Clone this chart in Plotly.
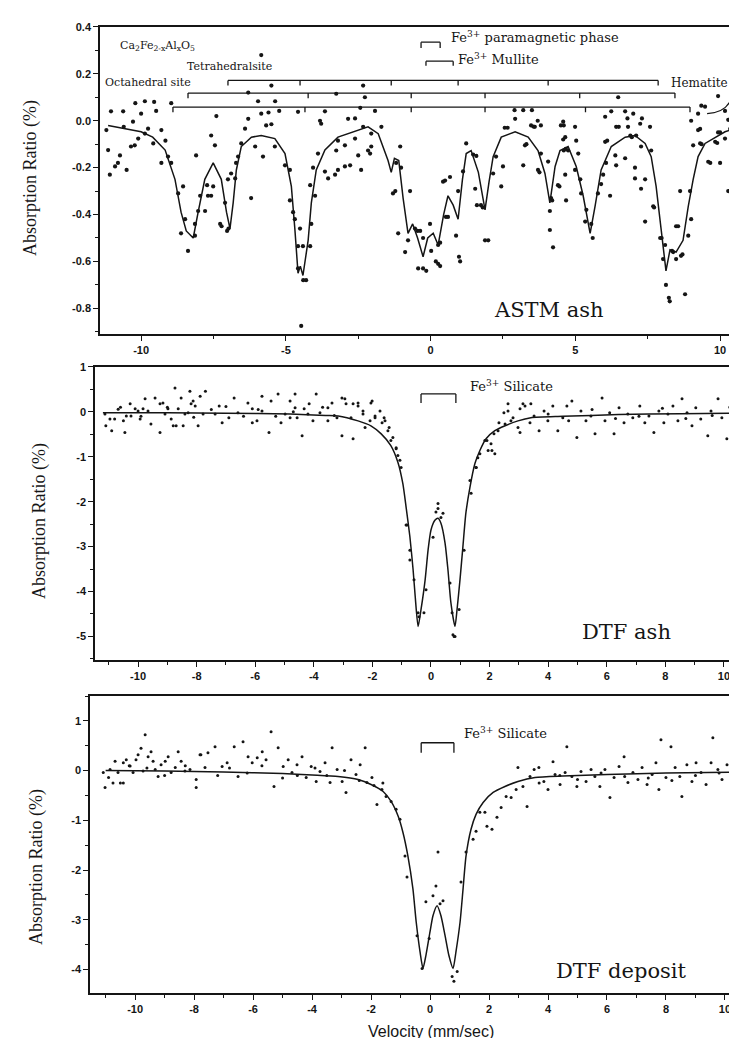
import plotly.graph_objects as go

W, H = 737, 1038

# ---------------- Panel 1 : ASTM ash ----------------
s1_x = [-11.04, -10.62, -10.2, -9.87, -9.55, -8.96, -10.0, -9.48, -7.4, -6.3, -5.96, -5.85, -5.5, -5.37,
        -5.23, -5.85, -5.6, -6.3, -4.58, -3.65, -3.26, -2.33, -2.27, -2.43, -2.61, -3.82, -1.92, 2.9, 3.2,
        3.5, 3.7, 6.48, 6.24, 6.72, 7.0, 9.93, 9.24, 9.48, 10.17, 10.28, 9.35, 9.0, 6.03, 6.8, 7.3, 4.58, 4.99,
        -11.2, -11.14, -11.08, -10.9, -10.73, -10.8, -10.5, -10.6, -10.28, -10.22, -10.35, -10.1, -9.87, -9.76,
        -9.58, -9.3, -9.16, -9.3, -9.07, -8.96, -8.72, -8.55, -8.62, -8.48, -8.38, -8.14, -8.14, -8.03, -8.1,
        -7.96, -7.79, -7.72, -7.69, -7.58, -7.45, -7.58, -7.51, -7.27, -7.22, -7.1, -7.03, -6.98, -7.0, -6.89,
        -6.75, -6.72, -6.65, -6.54, -6.41, -6.2, -6.06, -5.79, -5.68, -5.5, -5.38, -5.03, -4.86, -4.86, -4.75,
        -4.69, -4.51, -4.58, -4.41, -4.58, -4.4, -4.3, -4.47, -4.16, -4.12, -3.99, -4.16, -4.06, -3.89, -3.65,
        -3.54, -3.3, -3.2, -2.96, -2.78, -2.4, -3.26, -2.96, -3.2, -2.61, -2.5, -2.16, -2.05, -3.78, -2.85, -2.33,
        -2.05, -2.09, -1.7, -1.05, -1.19, -1.3, -1.22, -0.71, -1.02, -1.12, -0.88, -0.78, -0.54, -0.45, -0.36,
        -0.26, -0.26, -0.43, -0.15, -0.02, 0.02, 0.26, 0.33, 0.18, 0.26, 0.33, 0.53, 0.6, 0.43, 0.5, 0.67, 0.95,
        0.88, 0.98, 1.02, 1.12, 1.23, 1.47, 1.58, 1.54, 1.74, 1.6, 1.8, 1.88, 1.99, 2.16, 2.26, 2.44, 2.5, 2.56,
        2.66, 2.92, 3.26, 3.31, 3.2, 3.47, 3.55, 3.6, 3.71, 3.76, 3.81, 3.81, 4.06, 4.16, 4.2, 4.12, 4.12, 4.23,
        4.5, 4.6, 4.58, 4.65, 4.4, 4.45, 4.6, 4.67, 4.75, 4.65, 4.68, 4.99, 5.03, 5.1, 5.17, 5.2, 5.38, 5.34,
        5.55, 5.6, 5.78, 5.89, 5.96, 6.06, 6.03, 6.1, 6.2, 6.41, 6.5, 6.38, 6.41, 6.72, 6.82, 6.9, 6.95, 7.06,
        7.06, 7.1, 7.24, 7.27, 7.41, 7.27, 7.41, 7.58, 7.62, 7.69, 7.72, 7.93, 7.98, 8.1, 8.03, 8.13, 8.23, 8.26,
        8.34, 8.38, 8.48, 8.65, 8.7, 8.48, 8.55, 8.79, 8.9, 8.62, 8.96, 9.0, 9.07, 9.31, 9.36, 9.24, 9.31, 9.59,
        9.66, 10.0, 9.83, 9.9, 9.93, 10.0, 10.35, 10.28, 10.17]
s1_y = [0.04, 0.04, 0.075, 0.083, 0.08, 0.075, 0.03, 0.042, 0.02, 0.008, 0.083, 0.28, 0.15, 0.083,
        0.042, 0.03, 0.035, 0.12, 0.038, 0.04, 0.115, 0.15, 0.1, 0.055, 0.01, 0.0, 0.042, 0.045, 0.045,
        0.045, 0.0, 0.1, 0.04, 0.04, 0.03, 0.105, 0.03, 0.06, 0.042, 0.004, 0.064, 0.0, 0.017, 0.01, 0.01, -0.004, -0.026,
        -0.04, -0.125, -0.23, -0.195, -0.148, -0.18, -0.21, -0.026, -0.004, -0.105, -0.11, -0.076, -0.055, -0.034,
        -0.097, -0.04, -0.085, -0.18, -0.153, -0.18, -0.31, -0.28, -0.48, -0.42, -0.555, -0.49, -0.44, -0.385, -0.148,
        -0.32, -0.385, -0.275, -0.32, -0.063, -0.105, -0.32, -0.28, -0.44, -0.45, -0.35, -0.47, -0.46, -0.25, -0.225,
        -0.246, -0.18, -0.153, -0.097, -0.034, -0.33, -0.11, -0.153, -0.02, -0.015, -0.11, -0.19, -0.21, -0.34, -0.39,
        -0.42, -0.46, -0.535, -0.535, -0.63, -0.68, -0.68, -0.875, -0.535, -0.44, -0.32, -0.275, -0.2, -0.14, -0.217,
        -0.246, -0.23, -0.21, -0.195, -0.19, -0.21, -0.127, -0.105, -0.085, -0.076, -0.148, -0.127, -0.055, -0.013, 0.008, -0.026,
        -0.11, -0.14, -0.026, -0.11, -0.18, -0.31, -0.3, -0.3, -0.2, -0.48, -0.56, -0.51, -0.46, -0.47, -0.47,
        -0.5, -0.63, -0.63, -0.64, -0.44, -0.555, -0.61, -0.62, -0.6, -0.53, -0.52, -0.41, -0.41, -0.26, -0.255, -0.24, -0.3,
        -0.49, -0.58, -0.6, -0.216, -0.097, -0.144, -0.15, -0.29, -0.36, -0.36, -0.37, -0.51, -0.51, -0.225, -0.153, -0.28, -0.195, -0.03,
        -0.03, 0.008, -0.105, -0.1, -0.19, -0.02, -0.025, -0.026, -0.21, -0.22, -0.02, -0.14, -0.174, -0.33, -0.34, -0.385, -0.466, -0.54,
        -0.02, -0.02, -0.08, -0.07, -0.275, -0.28, -0.127, -0.12, -0.127, -0.23, -0.34, -0.21, -0.085, -0.14, -0.25, -0.31, -0.38, -0.43,
        -0.44, -0.5, -0.31, -0.27, -0.23, -0.18, -0.09, -0.085, -0.32, -0.026, -0.026, -0.148, -0.19, -0.16, -0.026, -0.063, -0.07, -0.2,
        -0.246, -0.063, -0.013, -0.11, -0.25, -0.29, -0.43, -0.026, -0.127, -0.365, -0.37, -0.5, -0.5, -0.53, -0.59, -0.7, -0.755, -0.77,
        -0.555, -0.56, -0.59, -0.576, -0.57, -0.45, -0.45, -0.74, -0.49, -0.3, -0.3, -0.42, -0.105, -0.097, -0.1, -0.04, -0.035, -0.175,
        -0.18, -0.18, -0.09, -0.095, -0.05, -0.05, -0.034, -0.3, -0.076]

fit1_x = [-11.14, -10.5, -10.0, -9.6, -9.17, -8.83, -8.62, -8.44, -8.3, -8.2, -8.03, -7.8, -7.51, -7.23, -7.05,
          -6.93, -6.82, -6.71, -6.54, -6.19, -5.85, -5.38, -5.03, -4.81, -4.69, -4.58, -4.5, -4.41, -4.23, -4.12,
          -3.95, -3.65, -3.2, -2.62, -2.16, -1.81, -1.64, -1.47, -1.36, -1.25, -1.1, -0.95, -0.78, -0.62, -0.45,
          -0.26, -0.1, 0.09, 0.26, 0.45, 0.6, 0.78, 0.95, 1.1, 1.23, 1.4, 1.65, 1.88, 2.02, 2.16, 2.44, 2.92, 3.37,
          3.71, 3.95, 4.12, 4.3, 4.47, 4.75, 5.03, 5.27, 5.51, 5.68, 5.89, 6.24, 6.72, 7.06, 7.41, 7.62, 7.79, 7.96,
          8.13, 8.27, 8.48, 8.72, 8.9, 9.07, 9.24, 9.48, 9.83, 10.17, 10.52]
fit1_y = [-0.02, -0.035, -0.047, -0.07, -0.125, -0.25, -0.39, -0.47, -0.49, -0.5, -0.39, -0.25, -0.18, -0.25, -0.39,
          -0.46, -0.35, -0.21, -0.11, -0.07, -0.063, -0.076, -0.14, -0.28, -0.46, -0.65, -0.62, -0.66, -0.51, -0.35,
          -0.21, -0.125, -0.07, -0.047, -0.026, -0.055, -0.11, -0.17, -0.22, -0.16, -0.17, -0.33, -0.48, -0.44, -0.5,
          -0.58, -0.5, -0.48, -0.53, -0.4, -0.32, -0.36, -0.42, -0.25, -0.14, -0.127, -0.22, -0.38, -0.26, -0.153, -0.07,
          -0.047, -0.07, -0.127, -0.225, -0.35, -0.195, -0.127, -0.11, -0.195, -0.32, -0.48, -0.365, -0.21, -0.11, -0.07,
          -0.063, -0.097, -0.153, -0.28, -0.46, -0.64, -0.55, -0.56, -0.51, -0.365, -0.25, -0.153, -0.097, -0.07, -0.047,
          -0.034]

# stick diagrams (line positions, mm/s) for the three sextets
sext_a = [-7.0, -4.51, -1.36, 0.95, 4.06, 7.86]
sext_b = [-8.38, -4.23, -0.67, 1.88, 5.15, 8.44]
sext_c = [-8.9, -4.34, -0.67, 1.88, 5.35, 8.96]
sext_levels = [0.172, 0.118, 0.058]
para_pair = [-0.33, 0.33]
mullite_pair = [-0.16, 0.78]

# ---------------- Panel 2 : DTF ash ----------------
s2_x = [-11.13, -11.1, -10.9, -10.96, -10.8, -10.68, -10.5, -10.45, -10.4, -10.27, -10.24, -10.1, -10.0, -9.93,
        -9.83, -9.76, -9.66, -9.56, -9.42, -9.25, -9.25, -9.15, -9.08, -8.98, -8.87, -8.8, -8.74, -8.7, -8.63,
        -8.53, -8.46, -8.4, -8.29, -8.23, -8.19, -8.12, -8.05, -7.95, -7.88, -7.78, -7.7, -7.23, -6.9, -6.59,
        -6.25, -6.1, -5.77, -5.53, -5.46, -5.22, -4.98, -4.81, -4.64, -4.57, -4.4, -4.16, -3.92, -3.79, -3.52,
        -3.38, -3.21, -3.04, -2.9, -2.66, -2.49, -2.32, -2.01, -1.91, -1.67, -1.6, -1.43, -1.37, -1.19, -1.06,
        -0.82, -0.72, -0.58, -0.41, -0.24, 0.07, 0.17, 0.24, 0.41, 0.65, 0.72, 0.79, 0.96, 1.13, 1.37, 1.54, 1.67,
        1.91, 2.08, 2.15, 2.32, 2.49, 2.63, 2.8, 2.97, 3.04, 3.21, 3.38, 3.52, 3.69, 3.86, 3.99, 4.16, 4.33, 4.5,
        4.64, 4.81, 4.98, 5.12, 5.29, 5.46, 5.6, 5.84, 5.94, 6.1, 6.25, 6.42, 6.59, 6.72, 6.89, 7.13, 7.3, 7.44,
        7.61, 7.78, 7.95, 8.09, 8.26, 8.43, 8.57, 8.74, 8.91, 9.04, 9.21, 9.45, 9.56, 9.8, 9.93, 10.1, 10.27, 10.38,
        -4.81, -4.33, -4.03, -3.04, -2.73, -2.25, -2.08, -6.1, -6.72, -7.37, -7.13, -4.64, -5.77, -5.94, -5.12, -3.52,
        -2.94, -2.66, -2.49, -2.32, -2.05, -1.91, -1.74, -1.57, -1.47, -1.3, -1.19, -1.13, -1.02, -0.85, -0.72, -0.44,
        -0.17, 0.24, 0.34, 0.75, 0.82, 1.33, 1.54, 1.6, 1.84, 1.95, 2.05, 2.18, 2.29, 2.53, 2.63, 2.73, 3.04, 3.14, 3.41,
        -10.6, -9.9, -9.0, -8.1, -7.5, -7.0, -6.4, -5.9, -5.3, -4.7, -4.2, -3.7, -3.3, 4.0, 4.7, 5.5, 6.3, 7.1, 7.9, 8.7, 9.6, 10.2]
s2_y = [-0.05, -0.31, -0.42, -0.16, -0.16, 0.06, -0.2, -0.46, -0.09, 0.18, -0.09, 0.07, 0.02, -0.16,
        0.07, 0.29, 0.02, -0.27, 0.31, -0.46, 0.18, 0.2, -0.05, 0.07, -0.16, -0.31, 0.53, -0.31, 0.07,
        0.31, -0.31, -0.05, -0.02, 0.46, 0.18, 0.24, 0.13, -0.31, 0.35, -0.05, 0.46, 0.13, -0.13, -0.02,
        0.2, 0.07, 0.02, -0.46, 0.24, 0.4, -0.05, 0.24, 0.09, -0.13, -0.53, 0.18, 0.4, -0.02, 0.09,
        0.2, -0.13, -0.53, 0.18, -0.6, 0.13, 0.02, 0.24, -0.09, -0.24, -0.13, -0.35, -0.64, -0.8, -1.08,
        -2.52, -3.08, -3.74, -4.56, -4.47, -2.79, -2.23, -2.04, -2.26, -3.81, -4.47, -5.0, -4.4, -3.08, -1.81, -1.24, -0.93,
        -0.64, -0.86, -0.49, -0.24, -0.02, 0.18, -0.13, -0.35, 0.07, 0.13, -0.24, -0.09, -0.42, 0.02, -0.2, 0.13, -0.42, -0.13,
        0.13, 0.24, -0.57, 0.02, -0.2, -0.09, -0.49, 0.31, -0.2, -0.02, -0.49, 0.09, -0.24, -0.05, -0.13, 0.13, -0.24, -0.09,
        -0.46, 0.02, -0.24, -0.05, 0.13, -0.2, 0.29, -0.02, -0.31, 0.09, -0.16, -0.53, 0.02, 0.29, -0.13, -0.6, -0.02, -0.46,
        -0.13, 0.07, -0.2, 0.31, -0.13, -0.35, -0.2, -0.24, 0.31, -0.05, -0.24, 0.4, 0.35, -0.2, -0.24, -0.2,
        0.29, 0.18, 0.2, -0.05, 0.2, -0.13, 0.02, -0.2, -0.42, -0.57, -0.82, -0.97, -1.24, -2.52, -3.3, -4.47,
        -3.96, -2.15, -2.35, -4.96, -5.0, -1.53, -1.24, -1.02, -0.64, -0.86, -0.71, -0.93, -0.42, -0.27, 0.02, -0.2, -0.46, 0.18, 0.18,
        0.1, -0.1, 0.1, -0.12, 0.05, 0.12, -0.1, 0.05, -0.1, 0.0, -0.05, 0.1, -0.08, -0.05, -0.2, 0.05, -0.15, -0.1, 0.08, -0.15, -0.08, 0.1]

fit2_x = [-11.2, -9.0, -7.0, -4.8, -3.6, -3.17, -2.49, -2.05, -1.7, -1.37, -1.13, -0.96, -0.85, -0.72, -0.61,
          -0.54, -0.44, -0.34, -0.2, -0.1, 0.0, 0.14, 0.24, 0.34, 0.48, 0.58, 0.68, 0.82, 0.89, 0.99, 1.09, 1.19,
          1.33, 1.5, 1.67, 1.88, 2.18, 2.53, 2.97, 3.41, 4.5, 6.4, 8.5, 10.6]
fit2_y = [-0.02, -0.02, -0.03, -0.05, -0.08, -0.09, -0.2, -0.31, -0.49, -0.75, -1.12, -1.6, -2.12, -2.78, -3.52,
          -4.1, -4.78, -4.4, -3.74, -3.08, -2.63, -2.41, -2.37, -2.48, -2.92, -3.52, -4.25, -4.78, -4.4, -3.74, -3.0,
          -2.26, -1.68, -1.15, -0.86, -0.6, -0.42, -0.31, -0.2, -0.13, -0.1, -0.06, -0.04, -0.03]
silicate2_pair = [-0.34, 0.85]

# ---------------- Panel 3 : DTF deposit ----------------
s3_x = [-11.02, -11.08, -10.9, -10.85, -10.75, -10.68, -10.58, -10.5, -10.4, -10.4, -10.3, -10.17, -10.07, -9.97,
        -9.9, -9.8, -9.73, -9.66, -9.56, -9.46, -9.39, -9.32, -9.22, -9.12, -8.98, -8.88, -8.78, -8.64, -8.54,
        -8.44, -8.31, -8.14, -7.93, -7.8, -7.63, -7.93, -7.77, -7.53, -7.29, -7.05, -6.88, -6.64, -6.51, -6.34,
        -6.17, -6.03, -5.86, -5.69, -5.56, -5.39, -5.29, -5.15, -4.98, -4.81, -4.68, -4.51, -4.34, -4.2, -4.03,
        -3.86, -3.73, -3.56, -3.39, -3.32, -3.15, -2.98, -2.85, -2.68, -2.51, -2.37, -2.2, -2.14, -1.97, -1.8,
        -1.63, -1.49, -1.32, -1.15, -1.02, -0.85, -0.78, -0.44, -0.27, -0.03, -0.14, 0.1, 0.2, 0.27, 0.34, 0.44,
        0.75, 0.81, 0.92, 1.05, 1.22, 1.46, 1.56, 1.69, 1.86, 1.93, 2.1, 2.27, 2.41, 2.58, 2.75, 2.92, 2.98, 3.15,
        3.29, 3.39, 3.53, 3.69, 3.86, 4.0, 4.17, 4.24, 4.41, 4.58, 4.64, 4.81, 4.98, 5.12, 5.29, 5.46, 5.59, 5.76,
        5.93, 6.1, 6.24, 6.41, 6.58, 6.71, 6.88, 7.05, 7.19, 7.36, 7.53, 7.66, 7.76, 7.83, 8.0, 8.17, 8.31, 8.47,
        8.54, 8.71, 8.88, 9.02, 9.19, 9.36, 9.53, 9.59, 9.76, 9.9, 10.07, 10.24, 10.37,
        -10.2, -9.6, -9.0, -8.3, -7.2, -6.8, -6.2, -5.7, -5.0, -4.5, -3.9, -3.5, -2.9, -2.4, -1.9, -1.6,
        3.7, 4.4, 5.0, 5.8, 6.6, 7.4, 8.2, 9.0, 9.8, 10.5]
s3_y = [-0.34, -0.04, -0.14, 0.02, -0.25, 0.19, -0.04, -0.25, 0.16, -0.25, 0.22, 0.09, -0.04, 0.22,
        0.32, 0.45, -0.01, 0.72, 0.28, 0.38, 0.19, 0.02, -0.12, 0.12, 0.19, 0.28, -0.04, 0.06, 0.38,
        0.19, -0.01, 0.02, -0.34, 0.32, 0.06, -0.18, 0.32, 0.36, 0.48, 0.08, 0.16, 0.48, -0.12, 0.58,
        0.28, 0.16, 0.26, 0.38, 0.22, 0.78, -0.32, 0.46, 0.08, 0.22, -0.04, 0.12, 0.28, -0.14, 0.08,
        -0.22, -0.02, 0.16, -0.24, 0.46, 0.02, -0.22, -0.44, 0.22, -0.08, 0.12, 0.46, -0.24, -0.14, -0.68,
        -0.38, -0.52, -0.62, -0.78, -0.98, -1.72, -2.14, -3.32, -3.98, -3.38, -2.64, -2.52, -2.32, -1.64, -2.68, -2.62,
        -4.14, -4.24, -4.04, -2.24, -1.64, -1.38, -1.22, -0.84, -0.84, -1.12, -1.18, -0.94, -0.74, -0.52, -0.54, -0.38, 0.06, -0.32,
        -0.72, -0.12, 0.02, 0.06, -0.22, -0.38, 0.18, -0.08, -0.28, -0.04, 0.48, -0.12, -0.32, -0.02, -0.22, 0.02, -0.12, -0.32,
        0.02, -0.54, -0.14, 0.08, 0.28, -0.24, -0.04, -0.18, 0.06, -0.28, -0.08, 0.16, -0.38, 0.62, -0.14, 0.48, 0.06, -0.12,
        -0.52, 0.12, -0.22, 0.16, -0.04, -0.28, 0.16, 0.66, 0.02, -0.18, 0.12, -0.12, 0.06,
        0.1, 0.05, -0.1, 0.1, -0.1, 0.05, -0.05, 0.1, -0.15, -0.1, 0.05, -0.1, 0.0, -0.2, -0.3, -0.25,
        -0.25, -0.1, -0.18, -0.05, -0.12, -0.15, -0.2, -0.1, -0.05, -0.1]

fit3_x = [-11.0, -9.0, -7.0, -5.0, -4.0, -3.12, -2.44, -2.0, -1.59, -1.32, -1.08, -0.92, -0.75, -0.58, -0.47,
          -0.34, -0.24, -0.14, 0.0, 0.1, 0.24, 0.37, 0.51, 0.64, 0.78, 0.88, 1.02, 1.12, 1.22, 1.39, 1.56, 1.8,
          2.14, 2.54, 2.98, 3.56, 4.5, 6.0, 8.0, 10.5]
fit3_y = [0.0, -0.01, -0.03, -0.06, -0.09, -0.12, -0.18, -0.28, -0.42, -0.62, -0.92, -1.24, -1.72, -2.38, -3.04,
          -3.64, -3.98, -3.72, -3.24, -2.92, -2.72, -2.92, -3.32, -3.72, -3.98, -3.64, -3.04, -2.38, -1.72, -1.18,
          -0.88, -0.64, -0.44, -0.32, -0.22, -0.14, -0.11, -0.08, -0.05, -0.03]
silicate3_pair = [-0.3, 0.81]

# tick labels
x1_ticks = [-10, -5, 0, 5, 10]
x1_text = ['-10', '-5', '0', '5', '10']
x23_ticks = [-10, -8, -6, -4, -2, 0, 2, 4, 6, 8, 10]
x23_text = ['-10', '-8', '-6', '-4', '-2', '0', '2', '4', '6', '8', '10']
y1_ticks = [0.4, 0.2, 0.0, -0.2, -0.4, -0.6, -0.8]
y1_text = ['0.4', '0.2', '0.0', '-0.2', '-0.4', '-0.6', '-0.8']
y2_ticks = [1, 0, -1, -2, -3, -4, -5]
y2_text = ['1', '0', '-1', '-2', '-3', '-4', '-5']
y3_ticks = [1, 0, -1, -2, -3, -4]
y3_text = ['1', '0', '-1', '-2', '-3', '-4']

INK = '#151515'

fig = go.Figure()
for sx, sy, fx, fy, xa, ya, ms in [(s1_x, s1_y, fit1_x, fit1_y, 'x', 'y', 4.2),
                                    (s2_x, s2_y, fit2_x, fit2_y, 'x2', 'y2', 3),
                                    (s3_x, s3_y, fit3_x, fit3_y, 'x3', 'y3', 3)]:
    fig.add_trace(go.Scatter(x=sx, y=sy, mode='markers', xaxis=xa, yaxis=ya,
                             marker=dict(size=ms, color=INK), showlegend=False, hoverinfo='skip'))
    fig.add_trace(go.Scatter(x=fx, y=fy, mode='lines', xaxis=xa, yaxis=ya,
                             line=dict(color=INK, width=1.5, shape='spline' if xa != 'x' else 'linear',
                                       smoothing=0.6), showlegend=False, hoverinfo='skip'))

tickfont = dict(family='Liberation Sans', size=11, color=INK, weight='bold')


def xaxis(dom, rng, tv, tt, minor_dt, anchor):
    return dict(domain=dom, range=rng, anchor=anchor, showline=True, mirror=True, linecolor=INK, linewidth=1.5,
                ticks='outside', ticklen=5, tickwidth=1.3, tickcolor=INK, tickmode='array', tickvals=tv,
                ticktext=tt, tickfont=tickfont, showgrid=False, zeroline=False,
                minor=dict(dtick=minor_dt, tick0=0, ticks='outside', ticklen=3, tickwidth=1, tickcolor=INK))


def yaxis(dom, rng, tv, tt, minor_dt, anchor):
    return dict(domain=dom, range=rng, anchor=anchor, showline=True, mirror=False, linecolor=INK, linewidth=1.5,
                ticks='outside', ticklen=5, tickwidth=1.3, tickcolor=INK, tickmode='array', tickvals=tv,
                ticktext=tt, tickfont=tickfont, showgrid=False, zeroline=False,
                minor=dict(dtick=minor_dt, tick0=0, ticks='outside', ticklen=3, tickwidth=1, tickcolor=INK))


fig.update_layout(
    width=W, height=H, margin=dict(l=0, r=0, t=0, b=0),
    paper_bgcolor='white', plot_bgcolor='white', showlegend=False,
    xaxis=xaxis([92 / W, 1], [-11.42, 10.86], x1_ticks, x1_text, 2.5, 'y'),
    yaxis=yaxis([1 - 322 / H, 1 - 13 / H], [-0.91, 0.4], y1_ticks, y1_text, 0.1, 'x'),
    xaxis2=xaxis([87 / W, 1], [-11.47, 10.72], x23_ticks, x23_text, 1, 'y2'),
    yaxis2=yaxis([1 - 650 / H, 1 - 355 / H], [-5.53, 1.0], y2_ticks, y2_text, 0.5, 'x2'),
    xaxis3=xaxis([82 / W, 1], [-11.53, 10.68], x23_ticks, x23_text, 1, 'y3'),
    yaxis3=yaxis([1 - 985 / H, 1 - 686 / H], [-4.48, 1.5], y3_ticks, y3_text, 0.5, 'x3'),
)

shapes = []


def seg(x0, y0, x1, y1, xr, yr, w=1.3):
    shapes.append(dict(type='line', x0=x0, y0=y0, x1=x1, y1=y1, xref=xr, yref=yr,
                       line=dict(color=INK, width=w)))


# sextet stick diagrams
for sticks, lvl in zip([sext_a, sext_b, sext_c], sext_levels):
    seg(min(sticks), lvl, max(sticks), lvl, 'x', 'y')
    for t in sticks:
        seg(t, lvl, t, lvl - 0.022, 'x', 'y')

# doublet brackets
for pair, top, drop, xr, yr in [(para_pair, 0.335, 0.025, 'x', 'y'), (mullite_pair, 0.254, 0.02, 'x', 'y'),
                                 (silicate2_pair, 0.4, 0.2, 'x2', 'y2'), (silicate3_pair, 0.56, 0.2, 'x3', 'y3')]:
    seg(pair[0], top, pair[1], top, xr, yr)
    seg(pair[0], top, pair[0], top - drop, xr, yr)
    seg(pair[1], top, pair[1], top - drop, xr, yr)

# hematite pointer
shapes.append(dict(type='path', xref='x', yref='y', path='M 10.45,0.125 Q 10.35,0.035 9.55,0.03',
                   line=dict(color=INK, width=1.3)))
fig.update_layout(shapes=shapes)

serif = 'DejaVu Serif'
small = dict(family=serif, size=11, color=INK)
mid = dict(family=serif, size=13, color=INK)
big = dict(family=serif, size=21, color=INK)
ann = []


def note(text, x, y, xr, yr, font, xanchor='left'):
    ann.append(dict(text=text, x=x, y=y, xref=xr, yref=yr, showarrow=False, font=font,
                    xanchor=xanchor, yanchor='middle'))


note('Ca<sub>2</sub>Fe<sub>2-x</sub>Al<sub>x</sub>O<sub>5</sub>', -10.8, 0.318, 'x', 'y', small)
note('Tetrahedralsite', -8.5, 0.233, 'x', 'y', small)
note('Octahedral site', -11.3, 0.165, 'x', 'y', small)
note('Fe<sup>3+</sup> paramagnetic phase', 0.65, 0.355, 'x', 'y', mid)
note('Fe<sup>3+</sup> Mullite', 0.88, 0.262, 'x', 'y', mid)
note('Hematite', 8.25, 0.16, 'x', 'y', dict(family=serif, size=12, color=INK))
note('ASTM ash', 4.1, -0.805, 'x', 'y', big, 'center')
note('Fe<sup>3+</sup> Silicate', 1.25, 0.58, 'x2', 'y2', mid)
note('DTF ash', 6.66, -4.9, 'x2', 'y2', big, 'center')
note('Fe<sup>3+</sup> Silicate', 1.1, 0.76, 'x3', 'y3', mid)
note('DTF deposit', 6.5, -4.04, 'x3', 'y3', big, 'center')

ytitle = dict(family='Liberation Serif', size=18, color=INK)
for xp, yp in [(22, 165), (31, 510), (28, 858)]:
    ann.append(dict(text='Absorption Ratio (%)', x=xp / W, y=1 - yp / H, xref='paper', yref='paper',
                    showarrow=False, textangle=-90, font=ytitle, xanchor='center', yanchor='middle'))
ann.append(dict(text='Velocity (mm/sec)', x=423 / W, y=1 - 1023 / H, xref='paper', yref='paper',
                showarrow=False, font=dict(family='Liberation Sans', size=16, color=INK),
                xanchor='center', yanchor='middle'))
fig.update_layout(annotations=ann)

fig.write_html('out.html')
